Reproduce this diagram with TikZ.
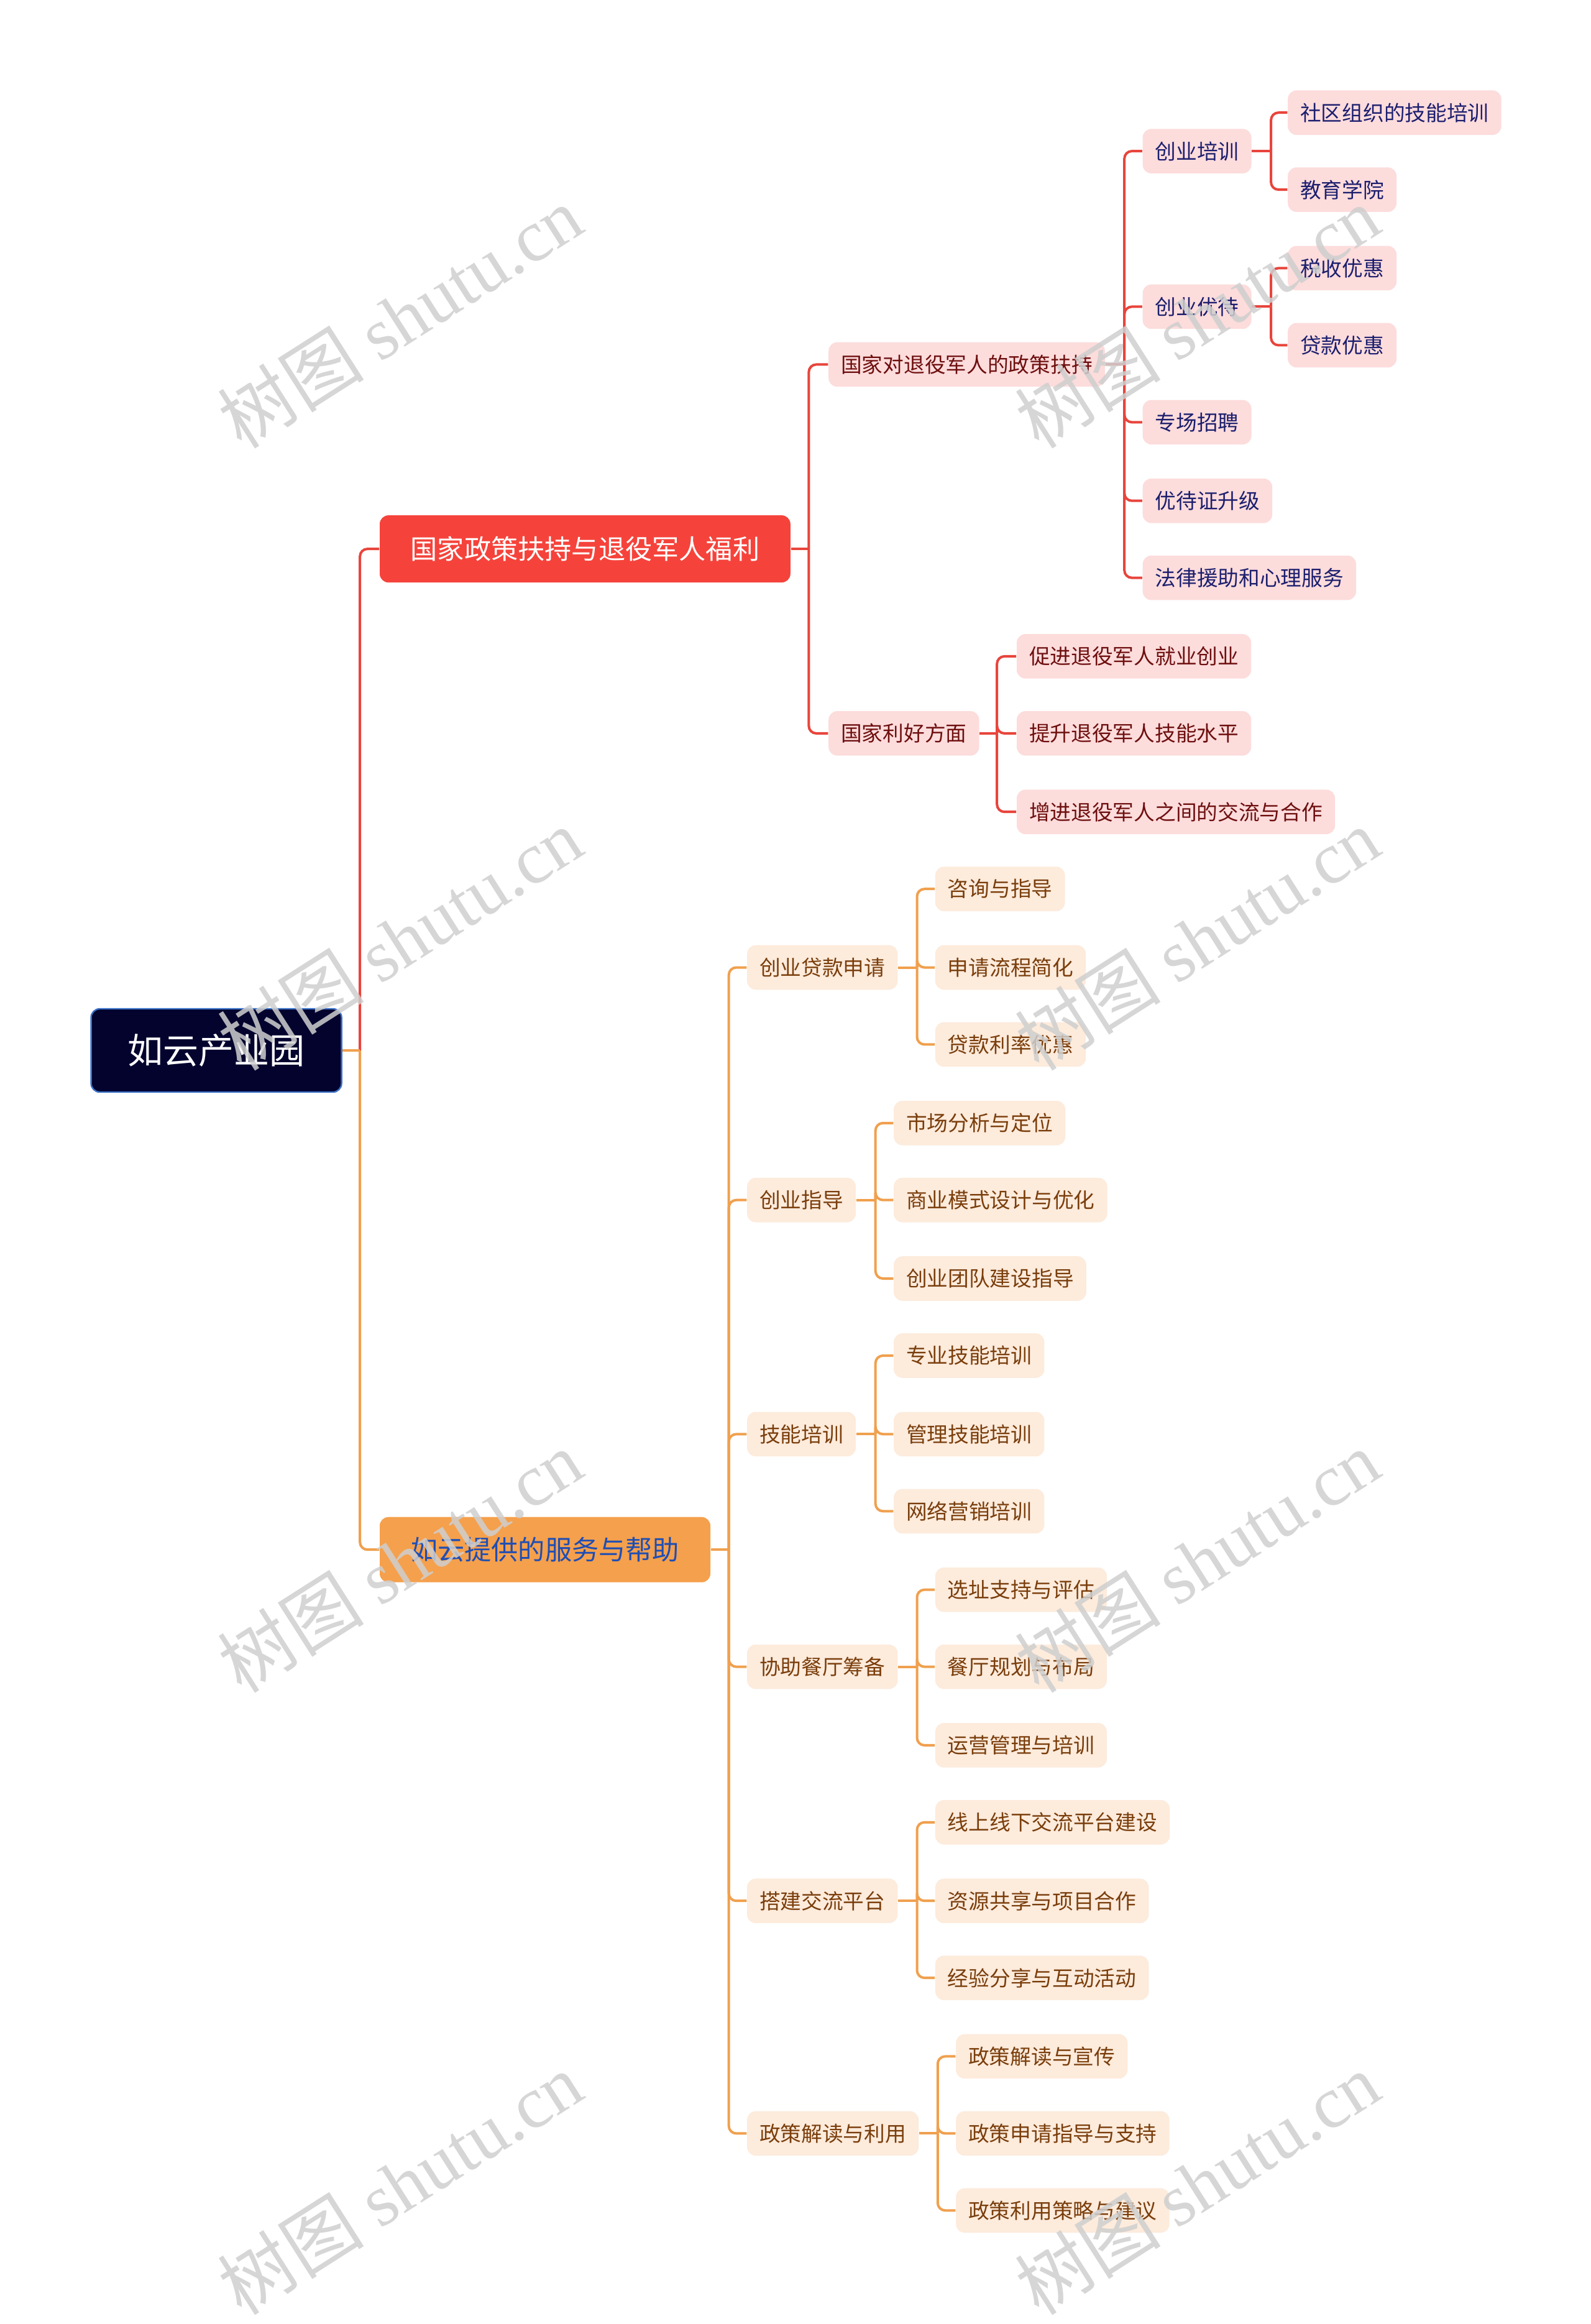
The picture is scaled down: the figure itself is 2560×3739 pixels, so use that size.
\documentclass[tikz,border=0pt]{standalone}
\usepackage{fontspec}
\setmainfont{Noto Sans CJK SC}
\newfontfamily\wmlatin{Liberation Serif}
\usetikzlibrary{calc}
\definecolor{rootfill}{HTML}{03032E}
\definecolor{rootborder}{HTML}{3B72C8}
\definecolor{redbox}{HTML}{F5433B}
\definecolor{redline}{HTML}{E8453C}
\definecolor{pinkfill}{HTML}{FDDCDC}
\definecolor{maroontext}{HTML}{6E0F0F}
\definecolor{navytext}{HTML}{1C1F6E}
\definecolor{orgbox}{HTML}{F5A04C}
\definecolor{orgline}{HTML}{F0A04E}
\definecolor{orgtext}{HTML}{1F4EB4}
\definecolor{peachfill}{HTML}{FDEBDC}
\definecolor{browntext}{HTML}{7A3E0C}
\definecolor{wmgray}{HTML}{CFCFCF}
\begin{document}
\begin{tikzpicture}[x=0.25pt,y=-0.25pt,
  rootbox/.style={draw=rootborder, line width=0.6pt, fill=rootfill, rounded corners=3.5pt, text=white,
    font=\fontsize{14.25}{16}\selectfont, minimum height=33.5pt, inner xsep=14.75pt, inner ysep=0pt, anchor=west},
  redmain/.style={fill=redbox, rounded corners=3.5pt, text=white,
    font=\fontsize{10.8}{13}\selectfont, minimum height=27pt, inner xsep=12.4pt, inner ysep=0pt, anchor=west},
  orgmain/.style={fill=orgbox, rounded corners=3.5pt, text=orgtext,
    font=\fontsize{10.8}{13}\selectfont, minimum height=26.25pt, inner xsep=12.5pt, inner ysep=0pt, anchor=west},
  pinkm/.style={fill=pinkfill, rounded corners=3.5pt, text=maroontext,
    font=\fontsize{8.43}{10}\selectfont, minimum height=17.9pt, inner xsep=5pt, inner ysep=0pt, anchor=west},
  pinkn/.style={pinkm, text=navytext},
  peach/.style={fill=peachfill, rounded corners=3.5pt, text=browntext,
    font=\fontsize{8.43}{10}\selectfont, minimum height=17.9pt, inner xsep=5pt, inner ysep=0pt, anchor=west},
  redln/.style={draw=redline, line width=1pt, rounded corners=3pt},
  orgln/.style={draw=orgline, line width=1pt, rounded corners=3pt},
  wm/.style={text=wmgray, opacity=0.85, rotate=32.5, font=\fontsize{29.5}{29.5}\selectfont}
]
\fill[white] (0,0) rectangle (2560,3739);
\useasboundingbox (0,0) rectangle (2560,3739);

% ---------- nodes ----------
\node[rootbox] (root) at (145.4,1690) {如云产业园};
\node[redmain] (r1) at (610.2,883.1) {国家政策扶持与退役军人福利};
\node[orgmain] (o1) at (610.2,2493.2) {如云提供的服务与帮助};

\node[pinkm] (r21) at (1332.4,586.4) {国家对退役军人的政策扶持};
\node[pinkm] (r22) at (1332.4,1179.9) {国家利好方面};

\node[pinkn] (r31) at (1837.8,243.1) {创业培训};
\node[pinkn] (r32) at (1837.8,493.4) {创业优待};
\node[pinkn] (r33) at (1837.8,679.3) {专场招聘};
\node[pinkn] (r34) at (1837.8,805.7) {优待证升级};
\node[pinkn] (r35) at (1837.8,929.6) {法律援助和心理服务};

\node[pinkn] (r41) at (2071.4,181.2) {社区组织的技能培训};
\node[pinkn] (r42) at (2071.4,305.1) {教育学院};
\node[pinkn] (r43) at (2071.4,431.4) {税收优惠};
\node[pinkn] (r44) at (2071.4,555.4) {贷款优惠};

\node[pinkm] (r36) at (1635.2,1055.9) {促进退役军人就业创业};
\node[pinkm] (r37) at (1635.2,1179.9) {提升退役军人技能水平};
\node[pinkm] (r38) at (1635.2,1306.2) {增进退役军人之间的交流与合作};

\node[peach] (o21) at (1201.3,1556.5) {创业贷款申请};
\node[peach] (o22) at (1201.3,1930.7) {创业指导};
\node[peach] (o23) at (1201.3,2307.3) {技能培训};
\node[peach] (o24) at (1201.3,2681.6) {协助餐厅筹备};
\node[peach] (o25) at (1201.3,3058.2) {搭建交流平台};
\node[peach] (o26) at (1201.3,3432.4) {政策解读与利用};

\node[peach] (o31) at (1504.1,1430.2) {咨询与指导};
\node[peach] (o32) at (1504.1,1556.5) {申请流程简化};
\node[peach] (o33) at (1504.1,1680.4) {贷款利率优惠};

\node[peach] (o34) at (1437.3,1806.8) {市场分析与定位};
\node[peach] (o35) at (1437.3,1930.7) {商业模式设计与优化};
\node[peach] (o36) at (1437.3,2057.0) {创业团队建设指导};

\node[peach] (o37) at (1437.3,2181.0) {专业技能培训};
\node[peach] (o38) at (1437.3,2307.3) {管理技能培训};
\node[peach] (o39) at (1437.3,2431.3) {网络营销培训};

\node[peach] (o40) at (1504.1,2557.6) {选址支持与评估};
\node[peach] (o41) at (1504.1,2681.6) {餐厅规划与布局};
\node[peach] (o42) at (1504.1,2807.9) {运营管理与培训};

\node[peach] (o43) at (1504.1,2931.8) {线上线下交流平台建设};
\node[peach] (o44) at (1504.1,3058.2) {资源共享与项目合作};
\node[peach] (o45) at (1504.1,3182.1) {经验分享与互动活动};

\node[peach] (o46) at (1537.4,3308.4) {政策解读与宣传};
\node[peach] (o47) at (1537.4,3432.4) {政策申请指导与支持};
\node[peach] (o48) at (1537.4,3556.3) {政策利用策略与建议};

% ---------- trunk coordinates ----------
\coordinate (t0) at (579.2,1690);
\coordinate (tR) at (1301.4,883.1);
\coordinate (tR21) at (1809.2,586.4);
\coordinate (tR31) at (2045.1,243.1);
\coordinate (tR32) at (2045.1,493.4);
\coordinate (tR22) at (1604.2,1179.9);
\coordinate (tO) at (1172.7,2493.2);
\coordinate (tO21) at (1475.5,1556.5);
\coordinate (tO22) at (1408.7,1930.7);
\coordinate (tO23) at (1408.7,2307.3);
\coordinate (tO24) at (1475.5,2681.6);
\coordinate (tO25) at (1475.5,3058.2);
\coordinate (tO26) at (1508.8,3432.4);

% ---------- connectors ----------
\draw[redln] (t0) |- (r1.west);
\draw[orgln] (t0) |- (o1.west);
\draw[orgln] (root.east) -- (t0);

\draw[redln] (r1.east) -- (tR);
\foreach \c in {r21,r22} \draw[redln] (tR) |- (\c.west);
\draw[redln] (r21.east) -- (tR21);
\foreach \c in {r31,r32,r33,r34,r35} \draw[redln] (tR21) |- (\c.west);
\draw[redln] (r31.east) -- (tR31);
\foreach \c in {r41,r42} \draw[redln] (tR31) |- (\c.west);
\draw[redln] (r32.east) -- (tR32);
\foreach \c in {r43,r44} \draw[redln] (tR32) |- (\c.west);
\draw[redln] (r22.east) -- (tR22);
\foreach \c in {r36,r37,r38} \draw[redln] (tR22) |- (\c.west);

\draw[orgln] (o1.east) -- (tO);
\foreach \c in {o21,o22,o23,o24,o25,o26} \draw[orgln] (tO) |- (\c.west);
\draw[orgln] (o21.east) -- (tO21);
\foreach \c in {o31,o32,o33} \draw[orgln] (tO21) |- (\c.west);
\draw[orgln] (o22.east) -- (tO22);
\foreach \c in {o34,o35,o36} \draw[orgln] (tO22) |- (\c.west);
\draw[orgln] (o23.east) -- (tO23);
\foreach \c in {o37,o38,o39} \draw[orgln] (tO23) |- (\c.west);
\draw[orgln] (o24.east) -- (tO24);
\foreach \c in {o40,o41,o42} \draw[orgln] (tO24) |- (\c.west);
\draw[orgln] (o25.east) -- (tO25);
\foreach \c in {o43,o44,o45} \draw[orgln] (tO25) |- (\c.west);
\draw[orgln] (o26.east) -- (tO26);
\foreach \c in {o46,o47,o48} \draw[orgln] (tO26) |- (\c.west);

% ---------- watermarks ----------
\node[wm] (w1) at (643.6,510) {树图 {\wmlatin shutu.cn}};
\node[wm] (w2) at (1926,510) {树图 {\wmlatin shutu.cn}};
\node[wm] (w3) at (643.6,1511) {树图 {\wmlatin shutu.cn}};
\node[wm] (w4) at (1926,1511) {树图 {\wmlatin shutu.cn}};
\node[wm] (w5) at (643.6,2512) {树图 {\wmlatin shutu.cn}};
\node[wm] (w6) at (1926,2512) {树图 {\wmlatin shutu.cn}};
\node[wm] (w7) at (643.6,3513) {树图 {\wmlatin shutu.cn}};
\node[wm] (w8) at (1926,3513) {树图 {\wmlatin shutu.cn}};
\end{tikzpicture}
\end{document}
